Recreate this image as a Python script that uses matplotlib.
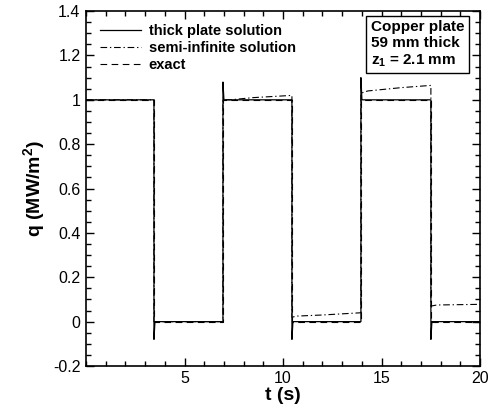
import matplotlib

matplotlib.use("Agg")
import matplotlib.pyplot as plt
from matplotlib.ticker import MultipleLocator, FormatStrFormatter

# exact square-wave heat flux (MW/m^2)
T_EXACT = [0, 3.45, 3.45, 6.95, 6.95, 10.45, 10.45, 13.95, 13.95, 17.5, 17.5, 20]
Q_EXACT = [1, 1, 0, 0, 1, 1, 0, 0, 1, 1, 0, 0]

# thick plate solution, overshoots at each switch
T_THICK = [0, 3.45, 3.45, 3.5, 6.95, 6.95, 7.0, 10.45, 10.45, 10.5,
           13.95, 13.95, 14.0, 17.5, 17.5, 17.55, 20]
Q_THICK = [1, 1, -0.08, 0, 0, 1.08, 1.0, 1.0, -0.08, 0,
           0, 1.1, 1.0, 1.0, -0.08, 0, 0]

# semi-infinite solution, drifts upward after the first cycle
T_SEMI = [0, 3.45, 3.45, 6.95, 6.95, 7.3, 8.5, 10.45, 10.45, 10.7, 12.0,
          13.95, 13.95, 14.3, 16.0, 17.5, 17.5, 17.8, 20]
Q_SEMI = [1, 1, 0, 0, 1.0, 1.0, 1.01, 1.02, 0.02, 0.025, 0.03,
          0.04, 1.03, 1.04, 1.055, 1.065, 0.07, 0.075, 0.078]

plt.rcParams["font.family"] = ["Liberation Sans", "DejaVu Sans"]
plt.rcParams["axes.unicode_minus"] = False
plt.rcParams["mathtext.fontset"] = "custom"
plt.rcParams["mathtext.bf"] = "Liberation Sans:bold"
plt.rcParams["mathtext.rm"] = "Liberation Sans:bold"
plt.rcParams["mathtext.default"] = "bf"

fig = plt.figure(figsize=(4.94, 4.19), dpi=100)
ax = fig.add_axes([0.174, 0.1265, 0.798, 0.847])

ax.plot(T_THICK, Q_THICK, color="black", lw=0.9, label="thick plate solution")
ax.plot(T_SEMI, Q_SEMI, color="black", lw=0.8, dashes=(6, 2.5, 1.2, 2.5),
        label="semi-infinite solution")
ax.plot(T_EXACT, Q_EXACT, color="black", lw=0.8, dashes=(6, 4),
        label="exact")

ax.set_xlim(0, 20)
ax.set_ylim(-0.2, 1.4)
ax.set_xticks([5, 10, 15, 20])
ax.xaxis.set_minor_locator(MultipleLocator(1))
ax.yaxis.set_major_locator(MultipleLocator(0.2))
ax.yaxis.set_minor_locator(MultipleLocator(0.05))
ax.yaxis.set_major_formatter(FormatStrFormatter("%g"))
ax.tick_params(which="both", direction="in", top=True, right=True, labelsize=11.5)
ax.tick_params(which="major", length=6, width=1)
ax.tick_params(which="minor", length=3.5, width=1)
ax.tick_params(axis="y", pad=4)
for s in ax.spines.values():
    s.set_linewidth(1.2)

ax.set_xlabel("t (s)", fontsize=14, fontweight="bold", labelpad=1)
ax.set_ylabel(r"q (MW/m$^2$)", fontsize=14, fontweight="bold", labelpad=4)

leg = ax.legend(loc="upper left", bbox_to_anchor=(0.035, 0.963), frameon=False,
                borderaxespad=0, borderpad=0, handlelength=2.8, handletextpad=0.55,
                labelspacing=0.2, prop={"weight": "bold", "size": 10.5})

ax.text(0.96, 0.976, "Copper plate\n59 mm thick\nz$_1$ = 2.1 mm", transform=ax.transAxes,
        ha="right", va="top", multialignment="left", fontsize=11, fontweight="bold",
        linespacing=1.2,
        bbox=dict(boxstyle="square,pad=0.3", facecolor="white", edgecolor="black", lw=1))

fig.savefig("out.png", dpi=100)
